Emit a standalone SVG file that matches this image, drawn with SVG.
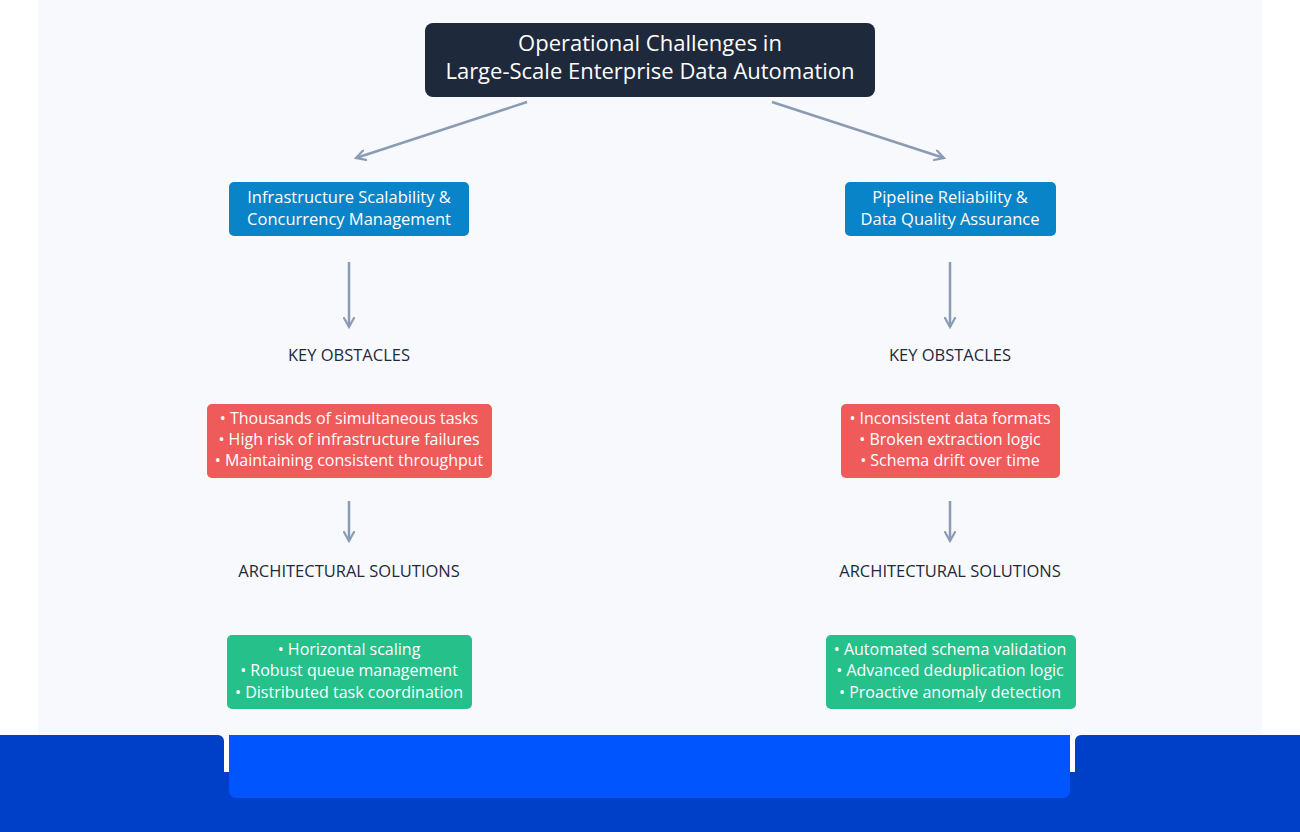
<svg xmlns="http://www.w3.org/2000/svg" width="1300" height="832" viewBox="0 0 1300 832">
<defs>
<marker id="ah" viewBox="0 0 12 12" refX="10" refY="6" markerWidth="12" markerHeight="12" markerUnits="userSpaceOnUse" orient="auto">
<path d="M1,1 L10,6 L1,11" fill="none" stroke="#8a9bb3" stroke-width="2.2" stroke-linecap="round"/>
</marker>
<style>
text{font-family:"Open Sans","Liberation Sans",sans-serif;text-anchor:middle}
.w{fill:#fff;font-size:16px}
.h{fill:#fff;font-size:16.5px}
.lbl{fill:#1e293b;font-size:16.5px}
.c{stroke:#8a9bb3;stroke-width:2.5;fill:none;marker-end:url(#ah)}
</style>
</defs>
<rect width="1300" height="832" fill="#ffffff"/>
<rect x="38" y="0" width="1224" height="740" fill="#f7f9fc"/>
<path d="M0,735 H218 a6,6 0 0 1 6,6 V772 H229 V735 H1070 V772 H1075 V741 a6,6 0 0 1 6,-6 H1300 V832 H0 Z" fill="#0040c8"/>
<path d="M229,735 H1070 V791 a7,7 0 0 1 -7,7 H236 a7,7 0 0 1 -7,-7 Z" fill="#0055ff"/>
<g id="connectors">
<path class="c" d="M527,102 L356,158"/>
<path class="c" d="M772,102 L944,158"/>
<path class="c" d="M349,262 V327"/>
<path class="c" d="M950,262 V327"/>
<path class="c" d="M349,501 V541"/>
<path class="c" d="M950,501 V541"/>
</g>
<g id="title"><rect x="425" y="23" width="450" height="74" rx="8" fill="#1e293b"/>
<text class="w" x="650" y="51" style="font-size:22px">Operational Challenges in</text>
<text class="w" x="650" y="79" style="font-size:22px">Large-Scale Enterprise Data Automation</text></g>
<g id="left-head"><rect x="229" y="182" width="240" height="54" rx="5" fill="#0a84c8"/>
<text class="h" x="349" y="203">Infrastructure Scalability &amp;</text>
<text class="h" x="349" y="225">Concurrency Management</text></g>
<g id="right-head"><rect x="845" y="182" width="211" height="54" rx="5" fill="#0a84c8"/>
<text class="h" x="950" y="203">Pipeline Reliability &amp;</text>
<text class="h" x="950" y="225">Data Quality Assurance</text></g>
<g id="left-ko"><text class="lbl" x="349" y="361">KEY OBSTACLES</text></g>
<g id="right-ko"><text class="lbl" x="950" y="361">KEY OBSTACLES</text></g>
<g id="left-obs"><rect x="207" y="404" width="285" height="74" rx="5" fill="#ef5a5a"/>
<text class="w" x="349" y="424">• Thousands of simultaneous tasks</text>
<text class="w" x="349" y="445">• High risk of infrastructure failures</text>
<text class="w" x="349" y="466">• Maintaining consistent throughput</text></g>
<g id="right-obs"><rect x="841" y="404" width="219" height="74" rx="5" fill="#ef5a5a"/>
<text class="w" x="950" y="424">• Inconsistent data formats</text>
<text class="w" x="950" y="445">• Broken extraction logic</text>
<text class="w" x="950" y="466">• Schema drift over time</text></g>
<g id="left-as"><text class="lbl" x="349" y="577">ARCHITECTURAL SOLUTIONS</text></g>
<g id="right-as"><text class="lbl" x="950" y="577">ARCHITECTURAL SOLUTIONS</text></g>
<g id="left-sol"><rect x="227" y="635" width="245" height="74" rx="5" fill="#26c08b"/>
<text class="w" x="349" y="655">• Horizontal scaling</text>
<text class="w" x="349" y="676">• Robust queue management</text>
<text class="w" x="349" y="698">• Distributed task coordination</text></g>
<g id="right-sol"><rect x="826" y="635" width="250" height="74" rx="5" fill="#26c08b"/>
<text class="w" x="950" y="655">• Automated schema validation</text>
<text class="w" x="950" y="676">• Advanced deduplication logic</text>
<text class="w" x="950" y="698">• Proactive anomaly detection</text></g>
</svg>
